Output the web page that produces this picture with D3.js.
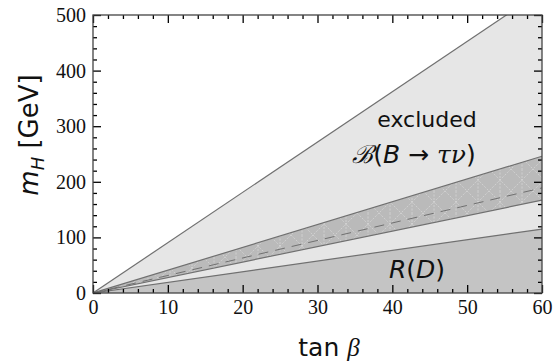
<!DOCTYPE html>
<html>
<head>
<meta charset="utf-8">
<script src="https://cdn.jsdelivr.net/npm/d3@7"></script>
<style>
  body { margin: 0; background: #fff; }
  svg { display: block; }
</style>
</head>
<body>
<div id="chart"></div>
<script>
// boundaries are straight lines from the origin, read at tan(beta) = 0 and 60
const tanBeta = [0, 60];
const excludedEdge = [0, 543];   // upper edge of B -> tau nu exclusion
const bandUpper = [0, 246];
const bandLower = [0, 167];
const bandCentral = [0, 189];
const rdEdge = [0, 115];         // upper edge of R(D) exclusion

const xTicks = [0, 10, 20, 30, 40, 50, 60];
const yTicks = [0, 100, 200, 300, 400, 500];
const xMinor = [2, 4, 6, 8, 12, 14, 16, 18, 22, 24, 26, 28, 32, 34, 36, 38, 42, 44, 46, 48, 52, 54, 56, 58];
const yMinor = [20, 40, 60, 80, 120, 140, 160, 180, 220, 240, 260, 280, 320, 340, 360, 380, 420, 440, 460, 480];

const width = 554, height = 362;
const margin = { top: 15, left: 93 };
const w = 449;
const h = 278;

const svg = d3.select('#chart').append('svg')
  .attr('width', width)
  .attr('height', height);

const defs = svg.append('defs');
defs.append('clipPath').attr('id', 'plotclip')
  .append('rect').attr('width', w).attr('height', h);

// faint crosshatch on the band
const pat = defs.append('pattern')
  .attr('id', 'hatch')
  .attr('patternUnits', 'userSpaceOnUse')
  .attr('width', 22).attr('height', 22);
pat.append('rect').attr('width', 22).attr('height', 22).attr('fill', '#bababa');
pat.append('path')
  .attr('d', 'M0,0L22,22M22,0L0,22M11,0V22')
  .attr('stroke', '#d4d4d4')
  .attr('stroke-width', 0.8)
  .attr('stroke-dasharray', '2,1.5');

const g = svg.append('g')
  .attr('transform', 'translate(' + margin.left + ',' + margin.top + ')');

const x = d3.scaleLinear().domain([0, 60]).range([0, w]);
const y = d3.scaleLinear().domain([0, 500]).range([h, 0]);

const line = d3.line()
  .x((d) => x(d[0]))
  .y((d) => y(d[1]));

const zip = (a) => tanBeta.map((t, i) => [t, a[i]]);

const area = (lo, hi) => d3.area()
  .x((d, i) => x(tanBeta[i]))
  .y0((d, i) => y(lo[i]))
  .y1((d, i) => y(hi[i]))(tanBeta);

const plot = g.append('g').attr('clip-path', 'url(#plotclip)');

// excluded region (everything below the upper edge)
plot.append('path')
  .attr('d', area([0, 0], excludedEdge))
  .attr('fill', '#e6e6e6');

// R(D) region
plot.append('path')
  .attr('d', area([0, 0], rdEdge))
  .attr('fill', '#c4c4c4');

// allowed band
plot.append('path')
  .attr('d', area(bandLower, bandUpper))
  .attr('fill', 'url(#hatch)');

[excludedEdge, bandUpper, bandLower, rdEdge].forEach((edge) => {
  plot.append('path')
    .attr('d', line(zip(edge)))
    .attr('fill', 'none')
    .attr('stroke', '#707070')
    .attr('stroke-width', 1.2);
});

plot.append('path')
  .attr('d', line(zip(bandCentral)))
  .attr('fill', 'none')
  .attr('stroke', '#707070')
  .attr('stroke-width', 1)
  .attr('stroke-dasharray', '10,7');

const serif = '"Liberation Serif", "Times New Roman", serif';
const sans = '"DejaVu Sans", sans-serif';

// inward ticks on all four sides, minor and major
const styleAxis = (s) => {
  s.select('.domain').remove();
  s.selectAll('.tick line').attr('stroke', '#000').attr('stroke-width', 1.3);
  s.selectAll('.tick text')
    .attr('font-family', serif)
    .attr('font-size', 20)
    .attr('fill', '#111');
};

g.append('g').attr('transform', 'translate(0,' + h + ')')
  .call(d3.axisBottom(x).tickValues(xMinor).tickSize(-4).tickFormat(''))
  .call(styleAxis);
g.append('g')
  .call(d3.axisTop(x).tickValues(xMinor).tickSize(-4).tickFormat(''))
  .call(styleAxis);
g.append('g')
  .call(d3.axisLeft(y).tickValues(yMinor).tickSize(-4).tickFormat(''))
  .call(styleAxis);
g.append('g').attr('transform', 'translate(' + w + ',0)')
  .call(d3.axisRight(y).tickValues(yMinor).tickSize(-4).tickFormat(''))
  .call(styleAxis);

g.append('g').attr('transform', 'translate(0,' + h + ')')
  .call(d3.axisBottom(x).tickValues(xTicks).tickSizeInner(-8).tickPadding(7))
  .call(styleAxis);
g.append('g')
  .call(d3.axisTop(x).tickValues(xTicks).tickSize(-8).tickFormat(''))
  .call(styleAxis);
g.append('g')
  .call(d3.axisLeft(y).tickValues(yTicks).tickSizeInner(-8).tickPadding(7))
  .call(styleAxis);
g.append('g').attr('transform', 'translate(' + w + ',0)')
  .call(d3.axisRight(y).tickValues(yTicks).tickSize(-8).tickFormat(''))
  .call(styleAxis);

g.append('rect')
  .attr('width', w).attr('height', h)
  .attr('fill', 'none')
  .attr('stroke', '#444')
  .attr('stroke-width', 1.3);

// axis titles
const xt = svg.append('text')
  .attr('x', 329).attr('y', 356)
  .attr('text-anchor', 'middle')
  .attr('font-family', sans)
  .attr('font-size', 25)
  .attr('fill', '#111');
xt.append('tspan').text('tan ');
xt.append('tspan').attr('font-family', serif).attr('font-style', 'italic').text('β');

const yt = svg.append('text')
  .attr('transform', 'translate(38,135) rotate(-90)')
  .attr('text-anchor', 'middle')
  .attr('font-family', sans)
  .attr('font-size', 26)
  .attr('fill', '#111');
yt.append('tspan').attr('font-style', 'italic').text('m');
yt.append('tspan').attr('font-style', 'italic').attr('font-size', 18).attr('dy', 6).text('H');
yt.append('tspan').attr('dy', -6).text(' [GeV]');

// region labels
svg.append('text')
  .attr('x', 427).attr('y', 127)
  .attr('text-anchor', 'middle')
  .attr('font-family', sans)
  .attr('font-size', 22)
  .attr('fill', '#111')
  .text('excluded');

const bl = svg.append('text')
  .attr('x', 414).attr('y', 163)
  .attr('text-anchor', 'middle')
  .attr('font-family', sans)
  .attr('font-size', 25)
  .attr('fill', '#111');
bl.append('tspan').attr('font-family', serif).attr('font-style', 'italic').text('ℬ');
bl.append('tspan').text('(');
bl.append('tspan').attr('font-style', 'italic').text('B');
bl.append('tspan').text(' → ');
bl.append('tspan').attr('font-family', '"DejaVu Serif", serif').attr('font-style', 'italic').text('τν');
bl.append('tspan').text(')');

const rd = svg.append('text')
  .attr('x', 417).attr('y', 278)
  .attr('text-anchor', 'middle')
  .attr('font-family', sans)
  .attr('font-size', 25)
  .attr('fill', '#111');
rd.append('tspan').attr('font-style', 'italic').text('R');
rd.append('tspan').text('(');
rd.append('tspan').attr('font-style', 'italic').text('D');
rd.append('tspan').text(')');
</script>
</body>
</html>
